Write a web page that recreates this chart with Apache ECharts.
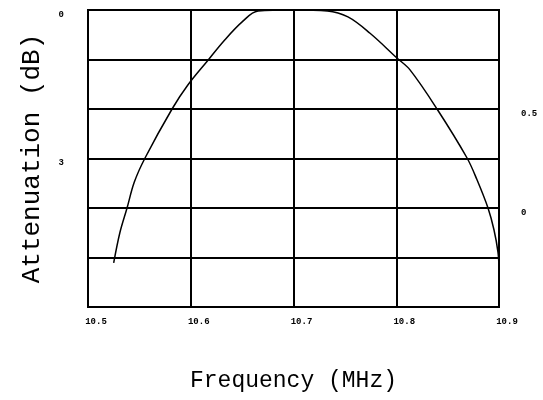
<!DOCTYPE html>
<html><head><meta charset="utf-8">
<script src="https://cdn.jsdelivr.net/npm/echarts@6/dist/echarts.min.js"></script>
<style>html,body{margin:0;padding:0;background:#fff}#c{width:543px;height:400px}</style>
</head><body><div id="c"></div>
<script>
const freqMHz = [10.525, 10.531, 10.538, 10.545, 10.5555, 10.5818, 10.597, 10.617, 10.632, 10.650, 10.6655, 10.700, 10.733, 10.753, 10.7745, 10.8007, 10.8134, 10.8397, 10.8689, 10.8786, 10.8893, 10.8951, 10.899, 10.9];
const attenuationDb = [5.11, 4.50, 4.0, 3.48, 2.99, 2.0, 1.52, 1.01, 0.63, 0.24, 0.02, 0.0, 0.02, 0.14, 0.47, 0.97, 1.21, 2.0, 2.99, 3.43, 4.0, 4.44, 4.89, 5.19];
const xTickLabels = ['10.5', '10.6', '10.7', '10.8', '10.9'];
const leftTickLabels = {0: '0', 3: '3'};
const rightTickLabels = {'0.5': '0.5', '0': '0'};

const chart = echarts.init(document.getElementById('c'));
const font = 'Liberation Mono';
chart.setOption({
  animation: false,
  grid: {left: 88, right: 44, top: 10, bottom: 93, show: true, borderColor: '#000', borderWidth: 2},
  xAxis: {
    type: 'value', min: 10.5, max: 10.9, interval: 0.1,
    name: 'Frequency (MHz)', nameLocation: 'middle', nameGap: 62,
    nameTextStyle: {fontFamily: font, fontSize: 23, color: '#000'},
    axisLine: {show: true, lineStyle: {color: '#000', width: 2}},
    axisTick: {show: false},
    splitLine: {show: true, lineStyle: {color: '#000', width: 2}},
    axisLabel: {
      fontFamily: font, fontSize: 9, fontWeight: 'bold', color: '#000', margin: 10,
      padding: [0, 0, 0, 16],
      formatter: v => { const i = Math.round((v - 10.5) / 0.1); return xTickLabels[i] || ''; }
    }
  },
  yAxis: [{
    type: 'value', min: 0, max: 6, interval: 1, inverse: true,
    name: 'Attenuation (dB)', nameLocation: 'middle', nameGap: 43,
    nameTextStyle: {fontFamily: font, fontSize: 26, color: '#000'},
    axisLine: {show: true, lineStyle: {color: '#000', width: 2}},
    axisTick: {show: false},
    splitLine: {show: true, lineStyle: {color: '#000', width: 2}},
    axisLabel: {
      fontFamily: font, fontSize: 9, fontWeight: 'bold', color: '#000', margin: 24,
      verticalAlign: 'top',
      formatter: v => leftTickLabels[v] || ''
    }
  }, {
    type: 'value', min: -0.5, max: 1, interval: 0.25, position: 'right',
    axisLine: {show: true, lineStyle: {color: '#000', width: 2}},
    axisTick: {show: false},
    splitLine: {show: false},
    axisLabel: {
      fontFamily: font, fontSize: 9, fontWeight: 'bold', color: '#000', margin: 22,
      verticalAlign: 'top',
      formatter: v => rightTickLabels[String(v)] || ''
    }
  }],
  series: [{
    type: 'line', yAxisIndex: 0, showSymbol: false, smooth: 0.35,
    data: freqMHz.map((f, i) => [f, attenuationDb[i]]),
    lineStyle: {color: '#000', width: 1.5}
  }]
});
</script></body></html>
